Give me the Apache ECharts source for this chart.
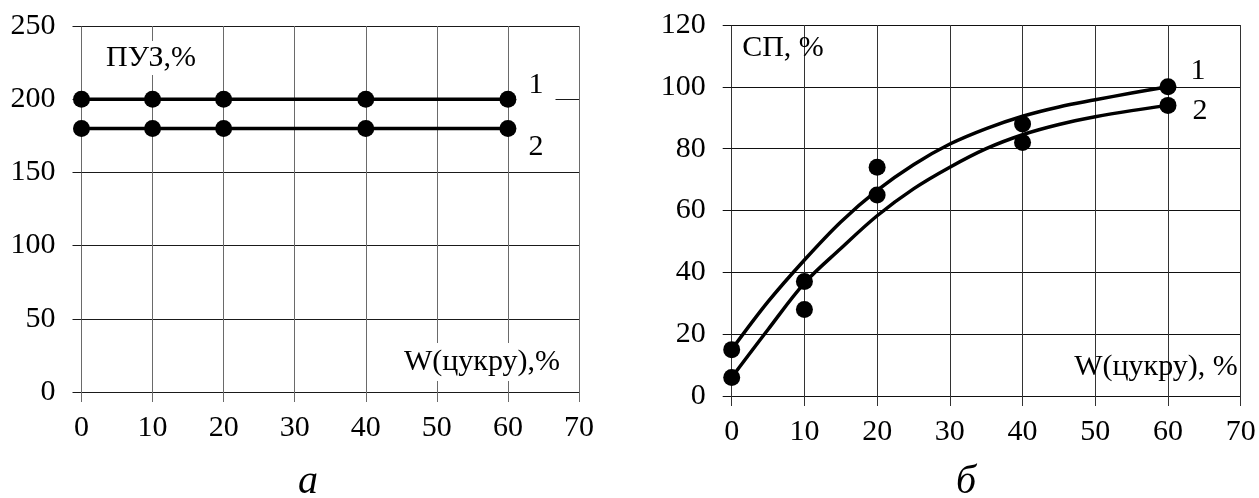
<!DOCTYPE html>
<html>
<head>
<meta charset="utf-8">
<script src="https://cdn.jsdelivr.net/npm/echarts@6/dist/echarts.min.js"></script>
<style>html,body{margin:0;padding:0;background:#fff}#c{width:1259px;height:498px}</style>
</head>
<body>
<div id="c"></div>
<script>
// ---- data ----
const sugarX = [0, 10, 20, 40, 60];
const puz1 = [200, 200, 200, 200, 200];
const puz2 = [180, 180, 180, 180, 180];
const sp1 = [15, 37, 74, 88, 100];
const sp2 = [6, 28, 65, 82, 94];
// trend curves
const trendX = [0, 5, 10, 15, 20, 25, 30, 35, 40, 45, 50, 55, 60];
const trend1 = [15, 30.5, 44, 56.3, 66.5, 74.8, 81.5, 86.5, 90.5, 93.5, 95.8, 98, 100];
const trend2 = [6, 21.5, 36.5, 47.7, 58.3, 67, 74, 80, 84.5, 87.8, 90.3, 92.3, 94];
const xTicksA = [0, 70, 10];
const yTicksA = [0, 250, 50];
const yTicksB = [0, 120, 20];

const pair = (xs, ys) => xs.map((x, i) => [x, ys[i]]);
const FONT = 'Liberation Serif';
const lbl = {fontSize: 30, fontFamily: FONT, color: '#000'};

function xAx(idx, vColor) {
  return {
    type: 'value', gridIndex: idx, min: xTicksA[0], max: xTicksA[1], interval: xTicksA[2],
    axisLine: {show: false},
    axisTick: {show: true, length: 10, lineStyle: {color: vColor, width: 1}},
    axisLabel: Object.assign({margin: 21}, lbl),
    splitLine: {show: true, lineStyle: {color: vColor, width: 1}}
  };
}
function yAx(idx, t, hColor) {
  return {
    type: 'value', gridIndex: idx, min: t[0], max: t[1], interval: t[2],
    axisLine: {show: false},
    axisTick: {show: true, length: 9, lineStyle: {color: hColor, width: 1}},
    axisLabel: Object.assign({margin: 26}, lbl),
    splitLine: {show: true, lineStyle: {color: hColor, width: 1}}
  };
}
function txt(x, y, s, opts) {
  return {
    type: 'text', x: x, y: y, z: 100,
    style: Object.assign({text: s, font: '30px "' + FONT + '"', fill: '#000', align: 'center', verticalAlign: 'middle'}, opts || {})
  };
}

const chart = echarts.init(document.getElementById('c'), null, {renderer: 'canvas'});
chart.setOption({
  animation: false,
  backgroundColor: '#fff',
  grid: [
    {left: 81.5, top: 26, width: 497.5, height: 366},
    {left: 731.7, top: 25, width: 509, height: 371}
  ],
  xAxis: [xAx(0, '#6a6a6a'), xAx(1, '#333')],
  yAxis: [yAx(0, yTicksA, '#1a1a1a'), yAx(1, yTicksB, '#111')],
  series: [
    {type: 'line', xAxisIndex: 0, yAxisIndex: 0, data: pair(sugarX, puz1), symbol: 'circle', symbolSize: 17,
     lineStyle: {color: '#000', width: 3.5}, itemStyle: {color: '#000', opacity: 1}},
    {type: 'line', xAxisIndex: 0, yAxisIndex: 0, data: pair(sugarX, puz2), symbol: 'circle', symbolSize: 17,
     lineStyle: {color: '#000', width: 3.5}, itemStyle: {color: '#000', opacity: 1}},
    {type: 'line', xAxisIndex: 1, yAxisIndex: 1, data: pair(trendX, trend1), smooth: 0.35, showSymbol: false,
     lineStyle: {color: '#000', width: 3.5}},
    {type: 'line', xAxisIndex: 1, yAxisIndex: 1, data: pair(trendX, trend2), smooth: 0.35, showSymbol: false,
     lineStyle: {color: '#000', width: 3.5}},
    {type: 'scatter', xAxisIndex: 1, yAxisIndex: 1, data: pair(sugarX, sp1), symbol: 'circle', symbolSize: 17,
     itemStyle: {color: '#000', opacity: 1}, z: 5},
    {type: 'scatter', xAxisIndex: 1, yAxisIndex: 1, data: pair(sugarX, sp2), symbol: 'circle', symbolSize: 17,
     itemStyle: {color: '#000', opacity: 1}, z: 5}
  ],
  graphic: [
    txt(151, 58, 'ПУЗ,%', {backgroundColor: '#fff', padding: [2, 4]}),
    txt(536, 85, '1', {backgroundColor: '#fff', padding: [0, 12]}),
    txt(536, 147, '2', {backgroundColor: '#fff', padding: [0, 12]}),
    txt(482, 362, 'W(цукру),%', {backgroundColor: '#fff', padding: [4, 8]}),
    txt(783, 48, 'СП, %'),
    txt(1198, 71, '1'),
    txt(1200, 111, '2'),
    txt(1156, 367, 'W(цукру), %'),
    txt(308, 482, 'а', {font: 'italic 40px "' + FONT + '"'}),
    txt(966, 482, 'б', {font: 'italic 40px "' + FONT + '"'})
  ]
});
</script>
</body>
</html>
